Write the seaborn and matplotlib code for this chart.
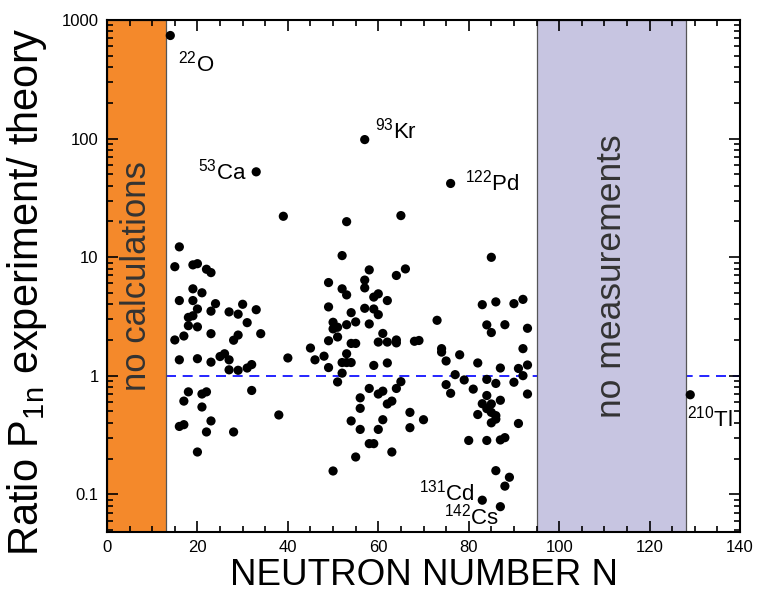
import matplotlib
matplotlib.use("Agg")
import matplotlib.pyplot as plt
from matplotlib import font_manager
from matplotlib.ticker import MultipleLocator, LogLocator, FixedLocator, FixedFormatter, NullFormatter
import matplotlib.transforms as mtransforms
import seaborn as sns
import pandas as pd

# ---------------- data ----------------
neutron_n = [
    14, 16, 15, 19, 20, 22, 23, 19, 21, 16, 19, 24, 30, 20, 23, 27, 29, 33, 19, 18,
    31, 18, 20, 23, 29, 28, 34, 15, 17, 16, 20, 23, 25, 26, 27, 27, 29, 31, 32, 40,
    18, 21, 22, 17, 21, 32, 23, 16, 17, 22, 28, 20, 38, 33, 39,
    45, 46, 48, 49, 52, 53, 57, 65, 58, 66, 64, 49, 57, 57, 52, 53, 59, 60, 62, 49,
    57, 59, 54, 60, 55, 58, 50, 53, 50, 51, 61, 49, 51, 54, 55, 60, 62, 64, 64, 68,
    69, 53, 52, 53, 54, 59, 62, 52, 51, 58, 65, 64, 60, 61, 56, 62, 63, 56, 67, 54,
    61, 56, 60, 67, 58, 59, 63, 55, 50, 70,
    73, 76, 85, 83, 86, 90, 92, 84, 85, 88, 93, 74, 74, 78, 75, 92, 82, 87, 91, 93,
    77, 92, 79, 84, 75, 86, 90, 76, 81, 84, 87, 93, 83, 85, 84, 85, 86, 86, 82, 85,
    91, 80, 84, 87, 88, 86, 89, 88, 83, 87, 129,
]
ratio = [
    740, 12.2, 8.3, 8.6, 8.8, 7.9, 7.4, 5.4, 5.0, 4.3, 4.3, 4.05, 4.0, 3.65, 3.5, 3.45, 3.3, 3.6, 3.2, 3.1,
    2.8, 2.64, 2.58, 2.26, 2.2, 1.99, 2.26, 2.0, 2.16, 1.36, 1.39, 1.30, 1.45, 1.53, 1.36, 1.12, 1.11, 1.16, 1.24, 1.41,
    0.73, 0.70, 0.73, 0.61, 0.544, 0.75, 0.415, 0.373, 0.386, 0.335, 0.335, 0.227, 0.466, 52.4, 22.1,
    1.71, 1.36, 1.46, 1.17, 10.3, 19.9, 98, 22.4, 7.8, 7.95, 7.0, 6.1, 6.4, 5.5, 5.4, 4.8, 4.6, 4.9, 4.3, 3.8,
    3.7, 3.65, 3.4, 3.27, 2.84, 2.73, 2.82, 2.69, 2.48, 2.56, 2.27, 1.97, 2.12, 1.87, 1.87, 1.92, 1.92, 2.0, 1.89, 1.95,
    1.98, 1.53, 1.29, 1.29, 1.29, 1.22, 1.28, 1.05, 0.885, 0.78, 0.89, 0.78, 0.70, 0.74, 0.65, 0.577, 0.61, 0.53, 0.49, 0.415,
    0.425, 0.352, 0.352, 0.364, 0.267, 0.267, 0.227, 0.206, 0.157, 0.425,
    2.93, 41.8, 9.96, 3.97, 4.19, 4.05, 4.4, 2.68, 2.31, 2.69, 2.51, 1.69, 1.58, 1.50, 1.33, 1.69, 1.28, 1.16, 1.15, 1.23,
    1.02, 1.0, 0.92, 0.93, 0.84, 0.86, 0.88, 0.71, 0.77, 0.68, 0.62, 0.70, 0.58, 0.577, 0.527, 0.49, 0.46, 0.43, 0.47, 0.40,
    0.395, 0.284, 0.284, 0.287, 0.30, 0.158, 0.139, 0.117, 0.089, 0.0785, 0.69,
]

label_mass = ["22", "53", "93", "122", "131", "142", "210"]
label_elem = ["O", "Ca", "Kr", "Pd", "Cd", "Cs", "Tl"]
label_n = [14, 33, 57, 76, 83, 87, 129]
label_ratio = [740, 52.4, 98, 41.8, 0.089, 0.0785, 0.69]

x_ticks = [0, 20, 40, 60, 80, 100, 120, 140]
y_ticks = [0.1, 1, 10, 100, 1000]
y_ticklabels = ["0.1", "1", "10", "100", "1000"]

band_calc = (0, 13)
band_meas = (95, 128)

# ---------------- styling ----------------
sns.set_style("white")


def pick(names):
    avail = {f.name for f in font_manager.fontManager.ttflist}
    for n in names:
        if n in avail:
            return n
    return "DejaVu Sans"


REG = pick(["Liberation Sans", "Arial", "DejaVu Sans"])
plt.rcParams["font.family"] = [REG, "DejaVu Sans"]
plt.rcParams["text.color"] = "black"
plt.rcParams["axes.labelcolor"] = "black"
plt.rcParams["xtick.color"] = "black"
plt.rcParams["ytick.color"] = "black"
plt.rcParams["mathtext.fontset"] = "custom"
plt.rcParams["mathtext.rm"] = REG
plt.rcParams["mathtext.it"] = REG + ":italic"
plt.rcParams["mathtext.bf"] = REG + ":bold"

fig = plt.figure(figsize=(7.59, 6.02), dpi=100)
ax = fig.add_axes([107 / 759, 1 - 532 / 602, (740 - 107) / 759, (532 - 20) / 602])

df = pd.DataFrame({"N": neutron_n, "ratio": ratio})
sns.scatterplot(data=df, x="N", y="ratio", ax=ax, color="black", s=44,
                edgecolor="none", linewidth=0, zorder=4)

ax.set_yscale("log")
ax.set_xlim(0, 140)
ax.set_ylim(0.048, 1000)

# reference line
ax.axhline(1.0, xmin=13 / 140, xmax=1, color="#0000FF", lw=1.2,
           dashes=(6, 4), zorder=1)

# bands
ax.axvspan(*band_calc, facecolor="#F4892B", edgecolor="#555555", lw=0.9, zorder=2)
ax.axvspan(*band_meas, facecolor="#C7C5E1", edgecolor="#555555", lw=0.9, zorder=2)
blend = mtransforms.blended_transform_factory(ax.transData, ax.transAxes)
ax.text(sum(band_calc) / 2, 0.5, "no calculations", rotation=90, transform=blend,
        ha="center", va="center", fontsize=25, color="#333333", zorder=5)
ax.text(sum(band_meas) / 2, 0.5, "no measurements", rotation=90, transform=blend,
        ha="center", va="center", fontsize=25.5, color="#333333", zorder=5)

# isotope labels
offsets = [(8, -36, "left"), (-10, -8, "right"), (10, 1, "left"), (14, -7, "left"),
           (-7, 0, "right"), (-1, -18, "right"), (-3, -32, "left")]
for m, e, nx, ry, (dx, dy, ha) in zip(label_mass, label_elem, label_n, label_ratio, offsets):
    ax.annotate(r"$^{\mathrm{" + m + r"}}$" + e, xy=(nx, ry), xytext=(dx, dy),
                textcoords="offset pixels", ha=ha, va="baseline",
                fontsize=16, color="black", zorder=6)

# axes & ticks
ax.xaxis.set_major_locator(FixedLocator(x_ticks))
ax.xaxis.set_minor_locator(MultipleLocator(5))
ax.yaxis.set_major_locator(FixedLocator(y_ticks))
ax.yaxis.set_major_formatter(FixedFormatter(y_ticklabels))
ax.yaxis.set_minor_locator(LogLocator(base=10, subs=range(2, 10), numticks=20))
ax.yaxis.set_minor_formatter(NullFormatter())
ax.tick_params(which="both", direction="in", top=True, right=True, bottom=True, left=True,
               width=1.2, color="black")
ax.tick_params(which="major", length=8)
ax.tick_params(which="minor", length=4)
ax.tick_params(axis="both", which="major", labelsize=12, pad=6, labelcolor="black")
ax.xaxis.set_zorder(6)
ax.yaxis.set_zorder(6)
for sp in ax.spines.values():
    sp.set_linewidth(1.5)
    sp.set_color("black")
    sp.set_zorder(7)

ax.set_xlabel("NEUTRON NUMBER N", fontsize=26.5, labelpad=2, color="black")
ax.set_ylabel(r"Ratio P$_{\mathrm{1n}}$ experiment/ theory", fontsize=30, color="black")
ax.yaxis.set_label_coords(-0.092, 0.47)

fig.savefig("out.png", dpi=100)
